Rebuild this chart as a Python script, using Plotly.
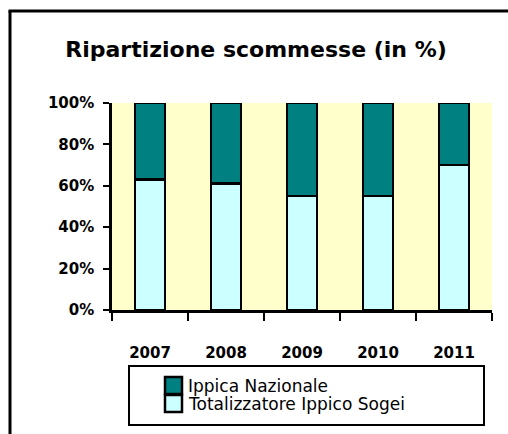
import plotly.graph_objects as go

# Betting share by year (percent)
years = ["2007", "2008", "2009", "2010", "2011"]
sogei = [63, 61, 55, 55, 70]          # Totalizzatore Ippico Sogei
nazionale = [37, 39, 45, 45, 30]      # Ippica Nazionale
y_ticks = [0, 20, 40, 60, 80, 100]
y_tick_labels = ["0%", "20%", "40%", "60%", "80%", "100%"]

FONT = "DejaVu Sans"
COL_SOGEI = "#CCFFFF"
COL_NAZ = "#008080"
NAME_SOGEI = "Totalizzatore Ippico Sogei"
NAME_NAZ = "Ippica Nazionale"

fig = go.Figure()
fig.add_trace(go.Bar(
    x=years, y=sogei, name=NAME_SOGEI,
    marker=dict(color=COL_SOGEI, line=dict(color="black", width=2.5)),
    width=0.4, showlegend=False,
))
fig.add_trace(go.Bar(
    x=years, y=nazionale, name=NAME_NAZ,
    marker=dict(color=COL_NAZ, line=dict(color="black", width=2.5)),
    width=0.4, showlegend=False,
))

W, H = 508, 434
ml, mr, mt, mb = 112, 16, 103, 124
pw, ph = W - ml - mr, H - mt - mb


def px_x(p):
    return (p - ml) / pw


def px_y(p):
    return (H - mb - p) / ph


shapes = [
    # outer chart frame: left and top sides (the rest runs off the page)
    dict(type="line", xref="paper", yref="paper",
         x0=px_x(10), x1=px_x(10), y0=px_y(H), y1=px_y(11),
         line=dict(color="black", width=3), layer="below"),
    dict(type="line", xref="paper", yref="paper",
         x0=px_x(8.5), x1=px_x(W), y0=px_y(11), y1=px_y(11),
         line=dict(color="black", width=3), layer="below"),
    # legend frame
    dict(type="rect", xref="paper", yref="paper",
         x0=px_x(129), x1=px_x(484), y0=px_y(425), y1=px_y(366),
         line=dict(color="black", width=2), fillcolor="white"),
]
annotations = []

# legend entries: swatch + label, top entry is the upper stack segment
legend_items = [(NAME_NAZ, COL_NAZ), (NAME_SOGEI, COL_SOGEI)]
sw_x0, sw_x1 = 165, 182
sw_top, sw_h = 377, 18
for i, (name, col) in enumerate(legend_items):
    top = sw_top + i * sw_h
    shapes.append(dict(
        type="rect", xref="paper", yref="paper",
        x0=px_x(sw_x0), x1=px_x(sw_x1),
        y0=px_y(top + sw_h - 1), y1=px_y(top),
        line=dict(color="black", width=2.5), fillcolor=col,
    ))
    annotations.append(dict(
        text=name, xref="paper", yref="paper",
        x=px_x(186), xanchor="left",
        y=px_y(top + sw_h / 2), yanchor="middle",
        showarrow=False, font=dict(size=17, family=FONT, color="black"),
    ))

fig.update_layout(
    width=W, height=H,
    margin=dict(l=ml, r=mr, t=mt, b=mb, autoexpand=False),
    barmode="stack",
    bargap=0.6,
    paper_bgcolor="white",
    plot_bgcolor="#FFFFCC",
    font=dict(family=FONT, color="black"),
    title=dict(
        text="<b>Ripartizione scommesse (in %)</b>",
        x=256 / W, xanchor="center", xref="container",
        y=1 - 49 / H, yanchor="middle",
        font=dict(size=22, family=FONT),
    ),
    showlegend=False,
    xaxis=dict(
        type="category",
        showline=True, linecolor="black", linewidth=2.5,
        ticks="outside", tickson="boundaries", ticklen=8,
        tickwidth=2, tickcolor="black",
        ticklabelstandoff=27,
        tickfont=dict(size=15, family=FONT),
        tickprefix="<b>", ticksuffix="</b>",
        showgrid=False, fixedrange=True,
    ),
    yaxis=dict(
        range=[0, 100],
        tickvals=y_ticks, ticktext=["<b>%s</b>" % t for t in y_tick_labels],
        showline=True, linecolor="black", linewidth=2.5,
        ticks="outside", ticklen=6, tickwidth=2, tickcolor="black",
        ticklabelstandoff=6,
        tickfont=dict(size=15, family=FONT),
        showgrid=False, zeroline=False, fixedrange=True,
    ),
    shapes=shapes,
    annotations=annotations,
)

fig.write_html("out.html")
